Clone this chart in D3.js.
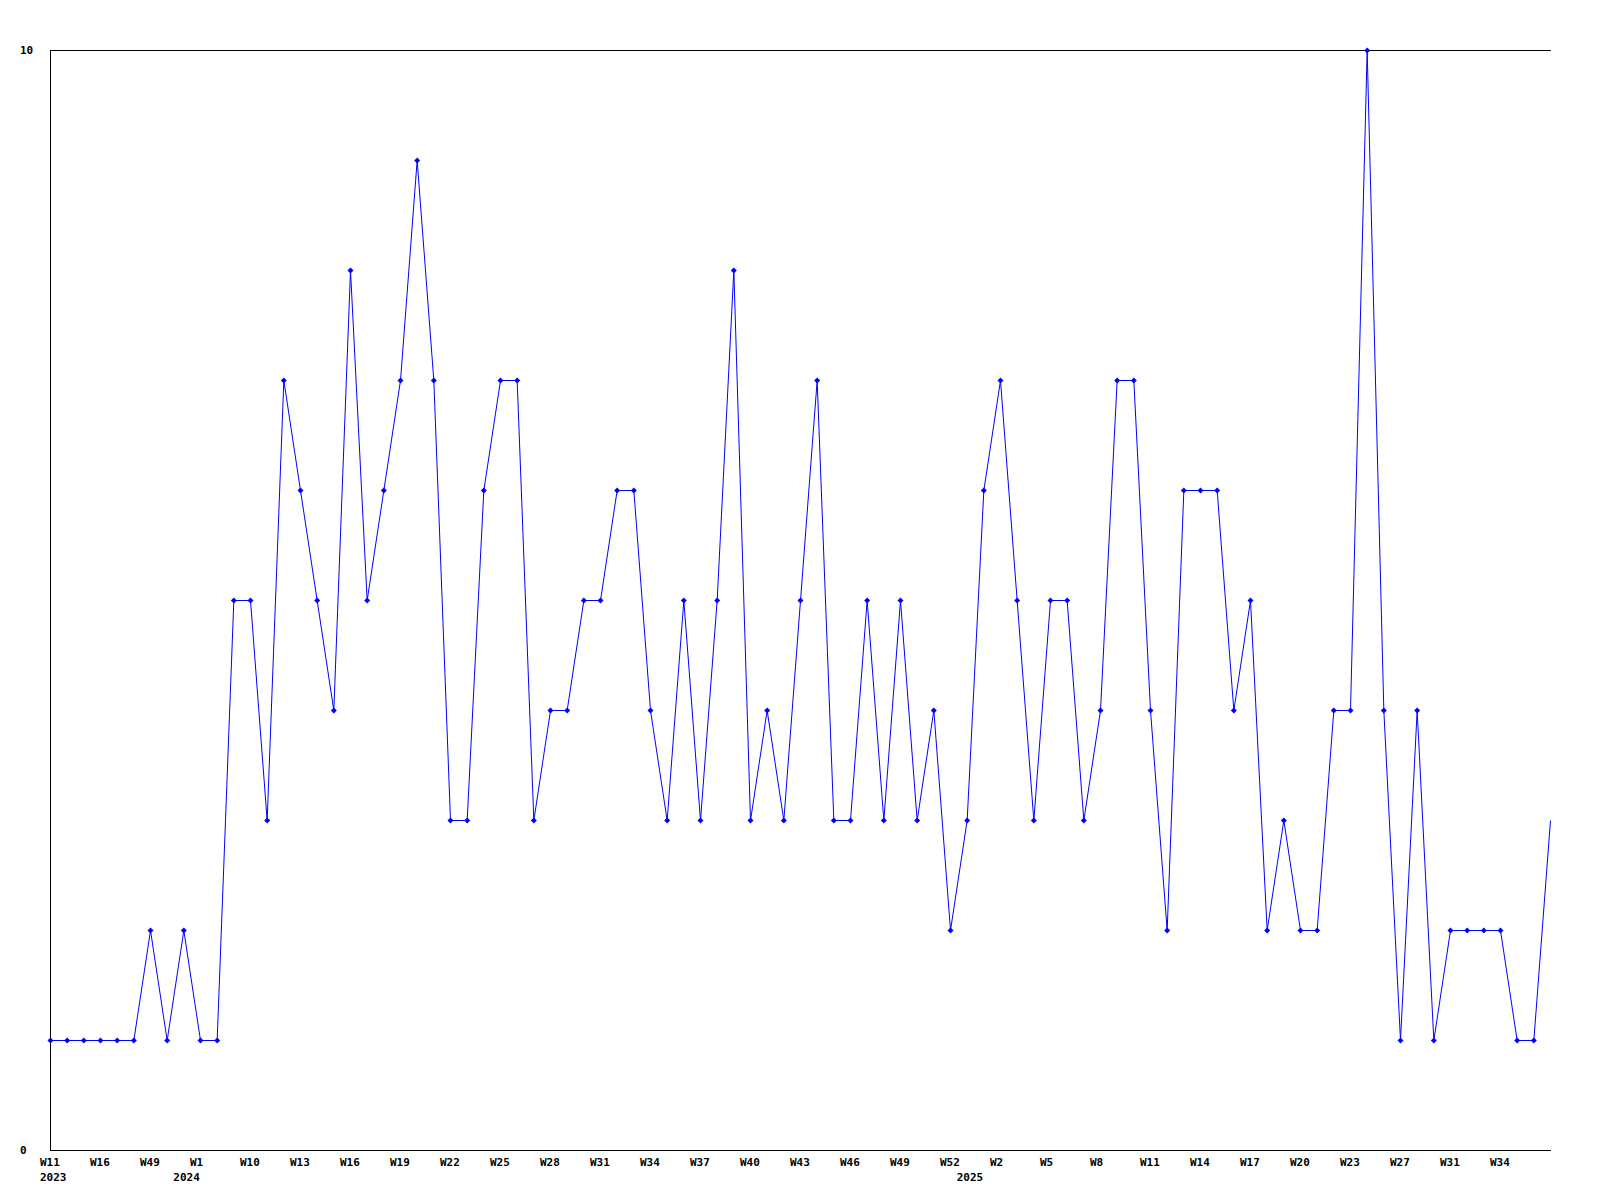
<!DOCTYPE html>
<html>
<head>
<meta charset="utf-8">
<script src="https://cdn.jsdelivr.net/npm/d3@7"></script>
<style>
  html, body { margin: 0; padding: 0; background: #fff; }
  svg { display: block; }
  text { font-family: "DejaVu Sans Mono", monospace; font-weight: bold; font-size: 11px; fill: #000; }
</style>
</head>
<body>
<svg id="chart" width="1600" height="1200"></svg>
<script>
// Weekly values, one per point (91 points)
const values = [
  1,1,1,1,1,1,2,1,2,1,
  1,5,5,3,7,6,5,4,8,5,
  6,7,9,7,3,3,6,7,7,3,
  4,4,5,5,6,6,4,3,5,3,
  5,8,3,4,3,5,7,3,3,5,
  3,5,3,4,2,3,6,7,5,3,
  5,5,3,4,7,7,4,2,6,6,
  6,4,5,2,3,2,2,4,4,10,
  4,1,4,1,2,2,2,2,1,1,
  3
];
// Week tick labels (every third point)
const tickIndex = d3.range(0, 88, 3);
const tickLabels = ["W11","W16","W49","W1","W10","W13","W16","W19","W22","W25",
                    "W28","W31","W34","W37","W40","W43","W46","W49","W52","W2",
                    "W5","W8","W11","W14","W17","W20","W23","W27","W31","W34"];
// Year labels at the first point of each year
const yearIndex = [0, 8, 55];
const yearLabels = ["2023", "2024", "2025"];
// Y axis labels
const yTicks = [0, 10];

(function () {
const svg = d3.select("#chart");
const mLeft = 50, mRight = 1550, mTop = 50, mBottom = 1150;

const x = d3.scaleLinear().domain([0, values.length - 1]).range([mLeft, mRight]);
const y = d3.scaleLinear().domain([0, 10]).range([mBottom, mTop]);

// Frame lines: left, top, bottom
const frame = svg.append("g").attr("stroke", "#000").attr("stroke-width", 1).attr("shape-rendering", "crispEdges");
frame.append("line").attr("x1", x(0) + 0.5).attr("x2", x(0) + 0.5).attr("y1", y(10)).attr("y2", y(0) + 1);
frame.append("line").attr("x1", x(0)).attr("x2", x(values.length - 1) + 1).attr("y1", y(10) + 0.5).attr("y2", y(10) + 0.5);
frame.append("line").attr("x1", x(0)).attr("x2", x(values.length - 1) + 1).attr("y1", y(0) + 0.5).attr("y2", y(0) + 0.5);

// Y labels
svg.append("g").selectAll("text").data(yTicks).join("text")
  .attr("x", 20)
  .attr("y", d => y(d))
  .attr("dy", "0.35em")
  .text(d => d);

// Week labels
svg.append("g").selectAll("text").data(tickIndex).join("text")
  .attr("x", d => x(d) - 10)
  .attr("y", 1166)
  .text((d, i) => tickLabels[i]);

// Year labels
svg.append("g").selectAll("text").data(yearIndex).join("text")
  .attr("x", d => x(d) - 10)
  .attr("y", 1181)
  .text((d, i) => yearLabels[i]);

// Line
const line = d3.line().x((d, i) => x(i) + 0.5).y(d => y(d) + 0.5);
svg.append("path")
  .datum(values)
  .attr("fill", "none")
  .attr("stroke", "#0000ff")
  .attr("stroke-width", 1)
  .attr("d", line);

// Markers (small diamonds), none at the final point
svg.append("g").selectAll("path")
  .data(values.slice(0, values.length - 1))
  .join("path")
  .attr("transform", (d, i) => `translate(${x(i) + 0.5},${y(d) + 0.5})`)
  .attr("d", "M0,-3L3,0L0,3L-3,0Z")
  .attr("fill", "#0000ff");
})();
</script>
</body>
</html>
